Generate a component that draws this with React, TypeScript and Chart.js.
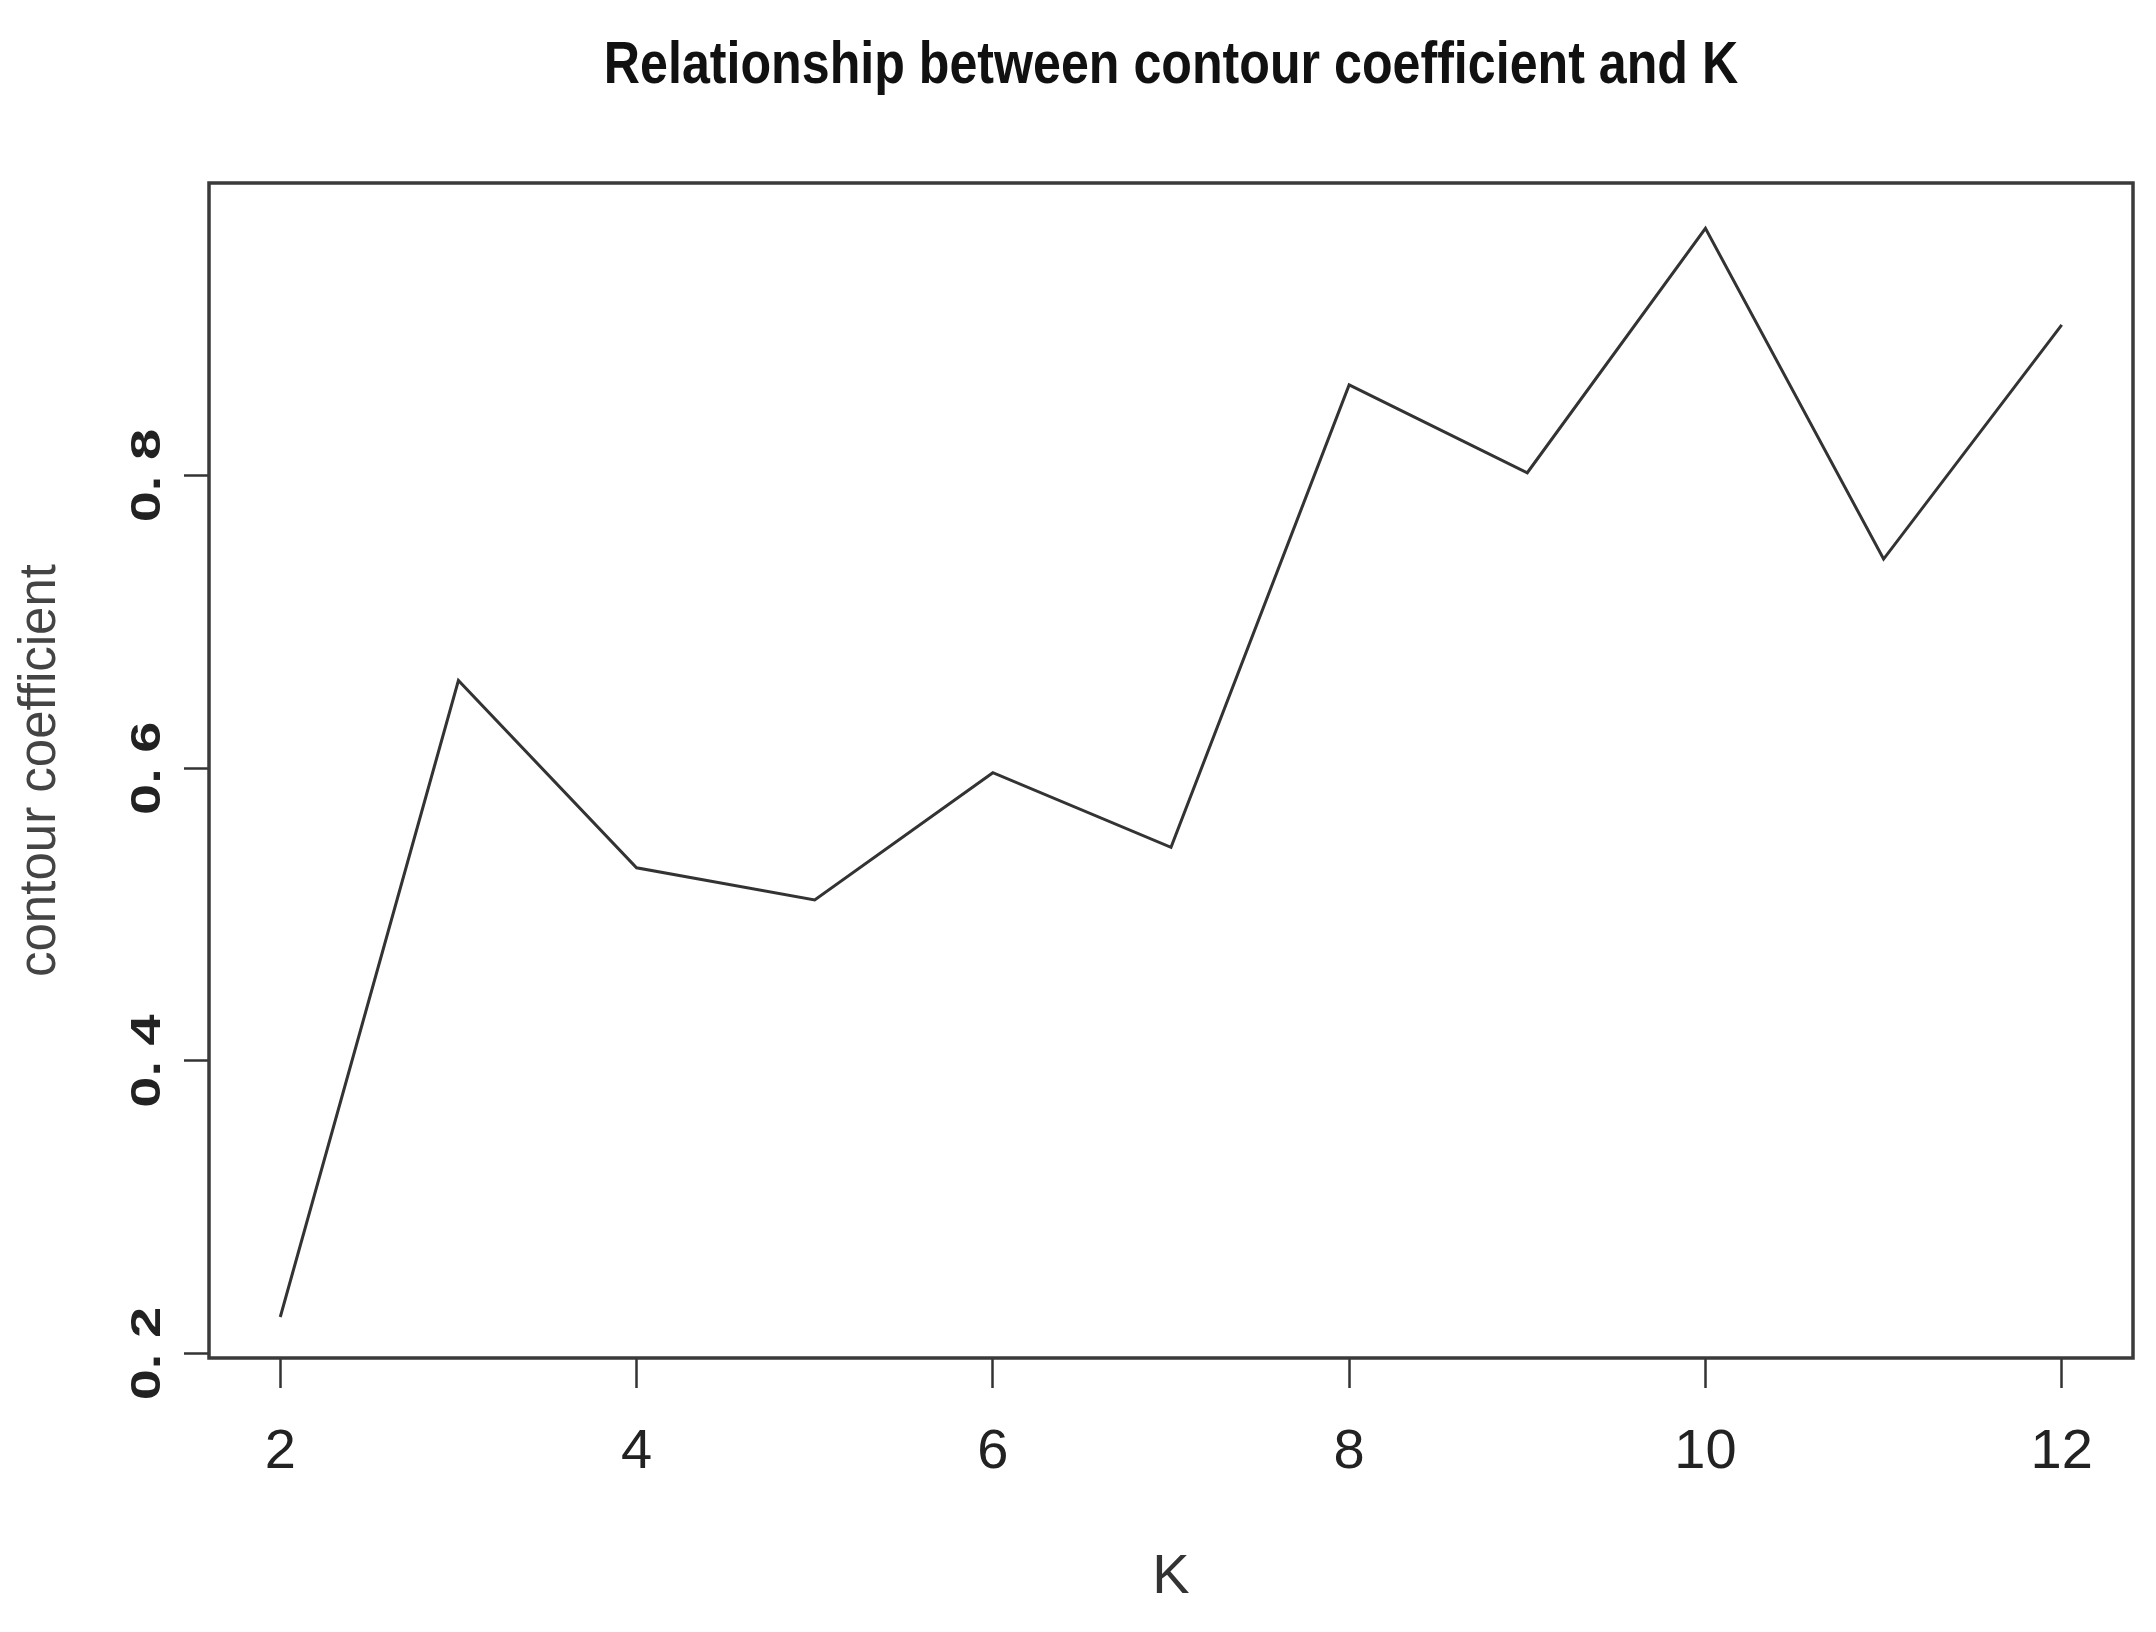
import React, { useEffect, useRef } from "react";
import { Chart, registerables } from "chart.js";

Chart.register(...registerables);

const kValues = [2, 3, 4, 5, 6, 7, 8, 9, 10, 11, 12];
const contourCoefficient = [0.225, 0.66, 0.532, 0.51, 0.597, 0.546, 0.862, 0.802, 0.969, 0.743, 0.903];
const xTickValues = [2, 4, 6, 8, 10, 12];
const yTickValues = [0.2, 0.4, 0.6, 0.8];
const yTickLabels = ["0. 2", "0. 4", "0. 6", "0. 8"];
const chartTitle = "Relationship between contour coefficient and K";
const xAxisTitle = "K";
const yAxisTitle = "contour coefficient";

const SANS = "'Liberation Sans', Arial, sans-serif";

const boxPlugin = {
  id: "rbox",
  afterDraw(chart: any) {
    const { ctx, chartArea } = chart;
    ctx.save();
    ctx.strokeStyle = "#3a3a3a";
    ctx.lineWidth = 3.5;
    ctx.strokeRect(chartArea.left, chartArea.top, chartArea.right - chartArea.left, chartArea.bottom - chartArea.top);
    ctx.restore();
  },
};

const titlePlugin = {
  id: "rtitle",
  afterDraw(chart: any) {
    const { ctx, chartArea } = chart;
    const cx = (chartArea.left + chartArea.right) / 2;
    ctx.save();
    ctx.fillStyle = "#111";
    ctx.font = "bold 60px " + SANS;
    ctx.textAlign = "center";
    ctx.textBaseline = "middle";
    ctx.translate(cx, 66);
    ctx.scale(0.836, 1);
    ctx.fillText(chartTitle, 0, 0);
    ctx.restore();
  },
};

const yLabelPlugin = {
  id: "ylabels",
  afterDraw(chart: any) {
    const { ctx } = chart;
    const yScale = chart.scales.y;
    ctx.save();
    ctx.fillStyle = "#222";
    ctx.font = "bold 56px " + SANS;
    ctx.textAlign = "center";
    ctx.textBaseline = "middle";
    yTickValues.forEach((v, i) => {
      const py = yScale.getPixelForValue(v);
      ctx.save();
      ctx.translate(148, py);
      ctx.rotate(-Math.PI / 2);
      ctx.scale(1, 0.76);
      ctx.fillText(yTickLabels[i], 0, 0);
      ctx.restore();
    });
    ctx.restore();
  },
};

export default function App() {
  const ref = useRef<HTMLCanvasElement | null>(null);
  useEffect(() => {
    document.body.style.margin = "0";
    const canvas = ref.current!;
    const chart = new Chart(canvas, {
      type: "line",
      data: {
        datasets: [
          {
            data: kValues.map((k, i) => ({ x: k, y: contourCoefficient[i] })),
            borderColor: "#333",
            borderWidth: 3,
            pointRadius: 0,
            tension: 0,
            fill: false,
          },
        ],
      },
      options: {
        responsive: false,
        animation: false,
        devicePixelRatio: 1,
        layout: { padding: { left: 0, right: 23, top: 183, bottom: 0 } },
        plugins: {
          legend: { display: false },
          tooltip: { enabled: false },
          title: { display: false },
        },
        scales: {
          x: {
            type: "linear",
            min: 1.6,
            max: 12.4,
            afterBuildTicks: (s: any) => {
              s.ticks = xTickValues.map((v) => ({ value: v }));
            },
            afterFit: (s: any) => {
              s.height = 274;
            },
            border: { display: false },
            grid: {
              drawOnChartArea: false,
              drawTicks: true,
              tickLength: 30,
              tickWidth: 2.5,
              tickColor: "#333",
            },
            ticks: {
              autoSkip: false,
              maxRotation: 0,
              minRotation: 0,
              padding: 31,
              color: "#222",
              font: { family: SANS, size: 56 },
              callback: (v: any) => String(v),
            },
            title: {
              display: true,
              text: xAxisTitle,
              color: "#333",
              font: { family: SANS, size: 56 },
              padding: { top: 0, bottom: 21 },
            },
          },
          y: {
            type: "linear",
            min: 0.197,
            max: 1.0,
            afterBuildTicks: (s: any) => {
              s.ticks = yTickValues.map((v) => ({ value: v }));
            },
            afterFit: (s: any) => {
              s.width = 209;
            },
            border: { display: false },
            grid: {
              drawOnChartArea: false,
              drawTicks: true,
              tickLength: 25,
              tickWidth: 2.5,
              tickColor: "#333",
            },
            ticks: { display: false },
            title: {
              display: true,
              text: yAxisTitle,
              color: "#444",
              font: { family: SANS, size: 51 },
              padding: { top: 10, bottom: 0 },
            },
          },
        },
      },
      plugins: [boxPlugin, titlePlugin, yLabelPlugin],
    });
    return () => chart.destroy();
  }, []);
  return <canvas ref={ref} width={2156} height={1632} style={{ display: "block", width: 2156, height: 1632 }} />;
}
